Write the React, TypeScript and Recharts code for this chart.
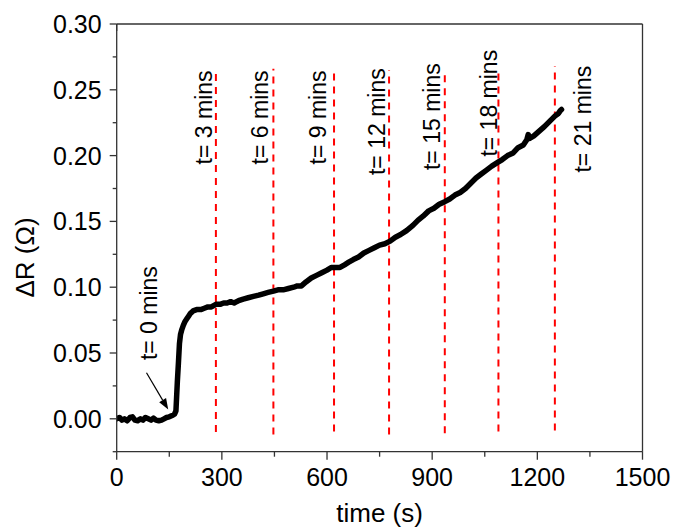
import React from 'react';
import { LineChart, Line, XAxis, YAxis, ReferenceLine, ReferenceDot } from 'recharts';

// time (s) and ΔR (Ω)
const times = [
  0, 8, 15, 22, 30, 38, 45, 52, 60, 68, 75, 82, 90, 98, 105, 112, 120, 128, 135, 142, 150, 158, 165, 169,
  171, 173, 176, 179, 182, 186, 190, 195, 200, 205, 210, 218, 228, 240, 250, 260, 270, 283, 295, 305,
  315, 325, 335, 342, 350, 361, 375, 390, 405, 418, 432, 447, 460, 475, 490, 505, 515, 527, 540, 555,
  570, 585, 600, 612, 625, 637, 650, 662, 675, 690, 705, 720, 735, 750, 765, 780, 795, 810, 827, 845,
  860, 874, 890, 905, 920, 936, 950, 965, 980, 995, 1010, 1025, 1040, 1055, 1070, 1088, 1100, 1115,
  1131, 1145, 1160, 1170, 1174, 1178, 1190, 1207, 1220, 1235, 1250, 1260, 1265, 1269,
];
const deltaR = [
  0.0, 0.001, -0.001, 0.0, -0.0015, 0.001, 0.0015, -0.001, -0.0015, 0.0, -0.001, 0.001, 0.0, -0.001, 0.0005, -0.001, -0.0015, -0.001, 0.0, 0.001, 0.0015, 0.0025, 0.0035, 0.006,
  0.017, 0.028, 0.042, 0.057, 0.064, 0.068, 0.071, 0.074, 0.076, 0.078, 0.08, 0.082, 0.083, 0.083, 0.084, 0.085, 0.085, 0.087, 0.087, 0.088,
  0.088, 0.089, 0.088, 0.089, 0.09, 0.091, 0.092, 0.093, 0.094, 0.095, 0.096, 0.097, 0.098, 0.098, 0.099, 0.1, 0.101, 0.101, 0.104, 0.107,
  0.109, 0.111, 0.113, 0.115, 0.115, 0.115, 0.117, 0.119, 0.121, 0.123, 0.126, 0.128, 0.13, 0.132, 0.133, 0.135, 0.138, 0.14, 0.143, 0.147,
  0.151, 0.154, 0.158, 0.16, 0.163, 0.165, 0.167, 0.17, 0.172, 0.175, 0.179, 0.183, 0.186, 0.189, 0.192, 0.195, 0.197, 0.2,
  0.202, 0.206, 0.208, 0.212, 0.216, 0.213, 0.215, 0.219, 0.222, 0.226, 0.23, 0.232, 0.234, 0.235,
];

// red dashed markers every 3 mins
const markerTimes = [283, 447, 620, 777, 936, 1089, 1250];
const markerTops = [0.266, 0.266, 0.267, 0.265, 0.265, 0.266, 0.268];
const markerBottoms = [-0.01, -0.012, -0.0096, -0.012, -0.011, -0.0096, -0.0088];

const noteTexts = ['t= 0 mins', 't= 3 mins', 't= 6 mins', 't= 9 mins', 't= 12 mins', 't= 15 mins', 't= 18 mins', 't= 21 mins'];
const noteTimes = [114, 271, 432, 596, 765, 922, 1084, 1352];
const noteValues = [0.0803, 0.229, 0.229, 0.229, 0.2258, 0.2296, 0.2398, 0.2277];

const arrowStart = { x: 85, y: 0.035 };
const arrowEnd = { x: 147, y: 0.007 };

const xTicks = [0, 150, 300, 450, 600, 750, 900, 1050, 1200, 1350, 1500];
const yTicks = [-0.025, 0, 0.025, 0.05, 0.075, 0.1, 0.125, 0.15, 0.175, 0.2, 0.225, 0.25, 0.275, 0.3];
const rightTicks = [0, 1, 2, 3, 4, 5, 6, 7, 8, 9, 10];

const data = times.map((t, i) => ({ t, dr: deltaR[i] }));

const FONT = '"Liberation Sans", Arial, sans-serif';
const AXIS = '#333';

const isMajorY = (v: number) => Math.abs(v * 20 - Math.round(v * 20)) < 1e-6;

function BottomTick({ x, y, payload }: any) {
  const major = payload.value % 300 === 0;
  return (
    <g>
      <line x1={x} y1={y} x2={x} y2={y + (major ? 8 : 5)} stroke={AXIS} strokeWidth={1.3} />
      {major && (
        <text x={x} y={y + 34} textAnchor="middle" fontSize={25} fontFamily={FONT} fill="#000">
          {payload.value}
        </text>
      )}
    </g>
  );
}

function TopTick({ x, y, payload }: any) {
  const major = payload.value % 300 === 0;
  return <line x1={x} y1={y} x2={x} y2={y + (major ? 7 : 5)} stroke={AXIS} strokeWidth={1.3} />;
}

function LeftTick({ x, y, payload }: any) {
  const major = isMajorY(payload.value);
  return (
    <g>
      <line x1={x - (major ? 7 : 4)} y1={y} x2={x} y2={y} stroke={AXIS} strokeWidth={1.3} />
      {major && (
        <text x={x - 15} y={y} textAnchor="end" dominantBaseline="central" fontSize={25} fontFamily={FONT} fill="#000">
          {payload.value.toFixed(2)}
        </text>
      )}
    </g>
  );
}

function RightTick({ x, y }: any) {
  return <line x1={x - 4} y1={y} x2={x} y2={y} stroke={AXIS} strokeWidth={1.3} />;
}

function YTitle({ viewBox }: any) {
  const cx = viewBox.x + 25;
  const cy = viewBox.y + viewBox.height / 2 + 19.6;
  return (
    <text x={cx} y={cy} transform={`rotate(-90 ${cx} ${cy})`} textAnchor="middle" dominantBaseline="central" fontSize={26} fontFamily={FONT} fill="#000">
      ΔR (Ω)
    </text>
  );
}

function XTitle({ viewBox }: any) {
  const cx = viewBox.x + viewBox.width / 2;
  return (
    <text x={cx} y={viewBox.y + 70} textAnchor="middle" fontSize={26} fontFamily={FONT} fill="#000">
      time (s)
    </text>
  );
}

function Arrow({ x1, y1, x2, y2 }: any) {
  const ang = Math.atan2(y2 - y1, x2 - x1);
  const len = 11;
  const w = 4;
  const bx = x2 - len * Math.cos(ang);
  const by = y2 - len * Math.sin(ang);
  const px = -Math.sin(ang) * w;
  const py = Math.cos(ang) * w;
  return (
    <g>
      <line x1={x1} y1={y1} x2={bx} y2={by} stroke="#000" strokeWidth={1.2} />
      <polygon points={`${x2},${y2} ${bx + px},${by + py} ${bx - px},${by - py}`} fill="#000" />
    </g>
  );
}

function noteShape(text: string) {
  return ({ cx, cy }: any) => (
    <text x={cx} y={cy} transform={`rotate(-90 ${cx} ${cy})`} textAnchor="middle" fontSize={23} fontFamily={FONT} fill="#000">
      {text}
    </text>
  );
}

export default function App() {
  return (
    <div style={{ position: 'absolute', left: 0, top: 0, background: '#fff' }}>
      <LineChart width={675} height={528} data={data} margin={{ top: 0, right: 0, bottom: 0, left: 0 }}>
        <XAxis
          dataKey="t"
          type="number"
          domain={[0, 1500]}
          ticks={xTicks}
          interval={0}
          tickSize={0}
          tickMargin={0}
          tickLine={false}
          tick={BottomTick}
          height={76.3}
          axisLine={{ stroke: AXIS, strokeWidth: 1.3 }}
          allowDataOverflow
          label={<XTitle />}
        />
        <XAxis
          xAxisId="top"
          orientation="top"
          type="number"
          domain={[0, 1500]}
          ticks={xTicks}
          interval={0}
          tickSize={0}
          tickMargin={0}
          tickLine={false}
          tick={TopTick}
          height={24}
          axisLine={{ stroke: AXIS, strokeWidth: 1.3 }}
        />
        <YAxis
          type="number"
          domain={[-0.025, 0.3]}
          ticks={yTicks}
          interval={0}
          tickSize={0}
          tickMargin={0}
          tickLine={false}
          tick={LeftTick}
          width={116.7}
          axisLine={{ stroke: AXIS, strokeWidth: 1.3 }}
          allowDataOverflow
          label={<YTitle />}
        />
        <YAxis
          yAxisId="right"
          orientation="right"
          type="number"
          domain={[0, 10]}
          ticks={rightTicks}
          interval={0}
          tickSize={0}
          tickMargin={0}
          tickLine={false}
          tick={RightTick}
          width={32.5}
          axisLine={{ stroke: AXIS, strokeWidth: 1.3 }}
        />
        {markerTimes.map((t, i) => (
          <ReferenceLine
            key={`m${i}`}
            segment={[{ x: t, y: markerBottoms[i] }, { x: t, y: markerTops[i] }]}
            stroke="#ff0000"
            strokeWidth={2}
            strokeDasharray="7 6"
          />
        ))}
        <ReferenceLine segment={[arrowStart, arrowEnd]} shape={Arrow} />
        {noteTexts.map((txt, i) => (
          <ReferenceDot key={`n${i}`} x={noteTimes[i]} y={noteValues[i]} r={0} shape={noteShape(txt)} />
        ))}
        <Line
          type="linear"
          dataKey="dr"
          stroke="#000"
          strokeWidth={5.5}
          strokeLinejoin="round"
          strokeLinecap="round"
          dot={false}
          isAnimationActive={false}
        />
      </LineChart>
    </div>
  );
}
